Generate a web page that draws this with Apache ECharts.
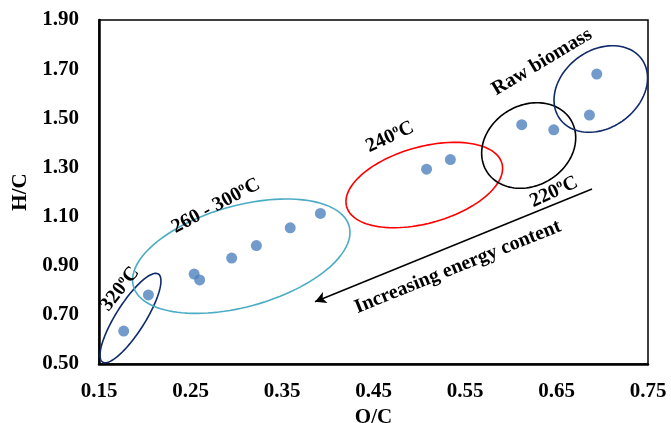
<!DOCTYPE html>
<html>
<head>
<meta charset="utf-8">
<script src="https://cdn.jsdelivr.net/npm/echarts@6/dist/echarts.min.js"></script>
<style>
html,body{margin:0;padding:0;background:#fff;}
#c{width:671px;height:423px;}
</style>
</head>
<body>
<div id="c"></div>
<script>
// ---- data ----
var ocValues = [0.177, 0.204, 0.254, 0.260, 0.295, 0.322, 0.359, 0.392, 0.508, 0.534, 0.612, 0.647, 0.686, 0.694];
var hcValues = [0.634, 0.781, 0.866, 0.842, 0.931, 0.982, 1.054, 1.113, 1.293, 1.332, 1.474, 1.453, 1.513, 1.680];
var xTicks = [0.15, 0.25, 0.35, 0.45, 0.55, 0.65, 0.75];
var yTicks = [0.50, 0.70, 0.90, 1.10, 1.30, 1.50, 1.70, 1.90];
var groupNames = ['320ºC', '260 - 300ºC', '240ºC', '220ºC', 'Raw biomass'];

// ellipse annotations in data units: centre x, centre y, half-width, half-height, correlation
var ellCx = [0.1844, 0.3055, 0.5055, 0.6196, 0.6984];
var ellCy = [0.6871, 0.9387, 1.2284, 1.3892, 1.6192];
var ellW = [0.0333, 0.1188, 0.0856, 0.0514, 0.0511];
var ellH = [0.1819, 0.2328, 0.1738, 0.1742, 0.1762];
var ellRho = [0.83, 0.416, 0.39, 0.18, 0.254];
var ellColors = ['#0E2A6B', '#4BACC6', '#FF0000', '#000000', '#0E2A6B'];

// text annotations (data-space centre, angle deg)
var labelX = [0.173, 0.2777, 0.468, 0.6473, 0.6342, 0.5423];
var labelY = [0.805, 1.143, 1.4238, 1.200, 1.729, 0.8947];
var labelAngle = [52, 28, 25, 25, 31, 22];
var labelParts = [['320', 'C'], ['260 - 300', 'C'], ['240', 'C'], ['220', 'C'], ['Raw biomass', null], ['Increasing energy content', null]];

// arrow (data space)
var arrowFrom = [0.6888, 1.2122];
var arrowTo = [0.3861, 0.7535];

var FONT = '"Liberation Serif","Times New Roman",serif';
var chart = echarts.init(document.getElementById('c'));

var points = ocValues.map(function (x, i) { return [x, hcValues[i]]; });
var ellData = ellCx.map(function (cx, i) { return [cx, ellCy[i], ellW[i], ellH[i], ellRho[i], i]; });

chart.setOption({
  animation: false,
  grid: { left: 99, right: 23, top: 20, bottom: 59, show: true, borderColor: '#000', borderWidth: 1.5, backgroundColor: 'transparent', containLabel: false, outerBoundsMode: 'none' },
  xAxis: {
    type: 'value', min: 0.15, max: 0.75, interval: 0.1,
    name: 'O/C', nameLocation: 'middle', nameGap: 40,
    nameTextStyle: { fontFamily: FONT, fontWeight: 'bold', fontSize: 21, color: '#000' },
    axisLine: { show: true, onZero: false, lineStyle: { color: '#000', width: 2.5 } },
    axisTick: { show: false }, splitLine: { show: false },
    axisLabel: { margin: 17, fontFamily: FONT, fontWeight: 'bold', fontSize: 21, color: '#000',
      formatter: function (v) { return v.toFixed(2); } }
  },
  yAxis: {
    type: 'value', min: 0.5, max: 1.9, interval: 0.2,
    name: 'H/C', nameLocation: 'middle', nameGap: 64, nameRotate: 90,
    nameTextStyle: { fontFamily: FONT, fontWeight: 'bold', fontSize: 21, color: '#000' },
    axisLine: { show: true, onZero: false, lineStyle: { color: '#000', width: 2.5 } },
    axisTick: { show: false }, splitLine: { show: false },
    axisLabel: { margin: 20, fontFamily: FONT, fontWeight: 'bold', fontSize: 21, color: '#000',
      formatter: function (v) { return v.toFixed(2); } }
  },
  series: [
    {
      type: 'custom',
      data: ellData,
      z: 2,
      silent: true,
      clip: false,
      renderItem: function (params, api) {
        var cx = api.value(0), cy = api.value(1), w = api.value(2), h = api.value(3), rho = api.value(4);
        var idx = api.value(5);
        var s = Math.sqrt(1 - rho * rho);
        var pts = [];
        for (var k = 0; k < 120; k++) {
          var t = k / 120 * Math.PI * 2;
          pts.push(api.coord([cx + w * Math.cos(t), cy + h * (rho * Math.cos(t) + s * Math.sin(t))]));
        }
        return { type: 'polygon', shape: { points: pts }, style: { fill: 'none', stroke: ellColors[idx], lineWidth: 1.6 } };
      }
    },
    {
      type: 'scatter',
      data: points,
      z: 3,
      symbolSize: 11,
      itemStyle: { color: '#4F81BD' },
      markLine: {
        silent: true,
        symbol: ['none', 'arrow'],
        symbolSize: [9, 11],
        label: { show: false },
        lineStyle: { color: '#000', width: 1.5, type: 'solid' },
        data: [[{ coord: arrowFrom }, { coord: arrowTo }]]
      }
    }
  ]
});

var graphics = labelParts.map(function (parts, i) {
  var p = chart.convertToPixel({ gridIndex: 0 }, [labelX[i], labelY[i]]);
  var text = parts[1] ? '{n|' + parts[0] + '}{s|o}{n|' + parts[1] + '}' : '{n|' + parts[0] + '}';
  return {
    type: 'text', x: p[0], y: p[1], rotation: labelAngle[i] * Math.PI / 180, z: 10,
    style: {
      text: text, align: 'center', verticalAlign: 'middle', fill: '#000',
      rich: {
        n: { fontFamily: FONT, fontWeight: 'bold', fontSize: 20, fill: '#000', lineHeight: 22 },
        s: { fontFamily: FONT, fontWeight: 'bold', fontSize: 12, fill: '#000', verticalAlign: 'top', lineHeight: 22 }
      }
    }
  };
});
chart.setOption({ graphic: graphics });
</script>
</body>
</html>
